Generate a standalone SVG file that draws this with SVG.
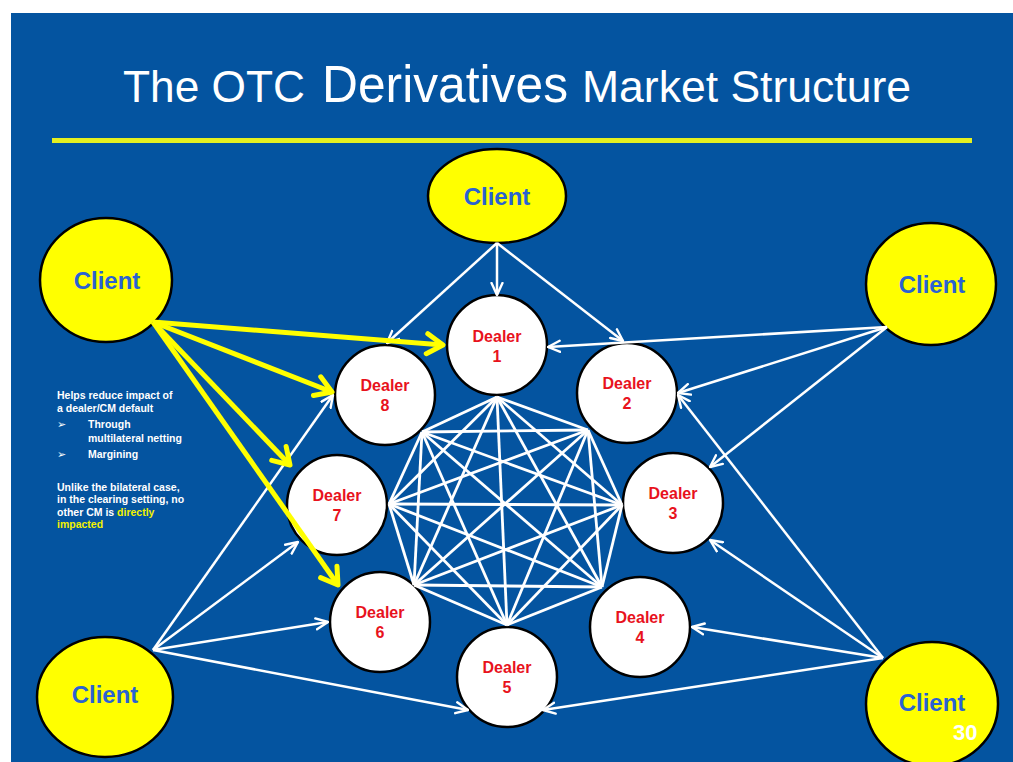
<svg xmlns="http://www.w3.org/2000/svg" width="1013" height="762" viewBox="0 0 1013 762">
<style>
.bg{fill:#0454A0}
.client{fill:#FFFF00;stroke:#000;stroke-width:2.5}
.dealer{fill:#fff;stroke:#000;stroke-width:2.5}
.ct{font-family:"Liberation Sans",Arial,sans-serif;font-weight:bold;font-size:24px;fill:#2A62D2;text-anchor:middle}
.dt{font-family:"Liberation Sans",Arial,sans-serif;font-weight:bold;font-size:16px;fill:#E8121C;text-anchor:middle}
.title{font-family:"Liberation Sans",Arial,sans-serif;fill:#fff}
.note{font-family:"Liberation Sans",Arial,sans-serif;font-weight:bold;font-size:10.5px;fill:#fff}
.bul{font-family:"DejaVu Sans",sans-serif;font-size:11px;fill:#fff}
.hl{fill:#F2F200}
.mesh line{stroke:#fff;stroke-width:2.8}
.wa{stroke:#fff;stroke-width:2.5;fill:none;marker-end:url(#wh)}
.ya{stroke:#FFFF00;stroke-width:5;fill:none;marker-end:url(#yh)}
</style>
<defs>
<marker id="wh" viewBox="0 0 14 14" refX="13" refY="7" markerWidth="14" markerHeight="14" markerUnits="userSpaceOnUse" orient="auto">
<path d="M1,1.5 L13,7 L1,12.5" fill="none" stroke="#fff" stroke-width="2.4" stroke-linejoin="round" stroke-linecap="round"/>
</marker>
<marker id="yh" viewBox="0 0 22 26" refX="19" refY="13" markerWidth="22" markerHeight="26" markerUnits="userSpaceOnUse" orient="auto">
<path d="M3,3 L19,13 L3,23" fill="none" stroke="#FFFF00" stroke-width="5" stroke-linejoin="round" stroke-linecap="round"/>
</marker>
</defs>
<rect x="0" y="0" width="1013" height="762" fill="#fff"/>
<rect class="bg" x="11" y="13" width="1002" height="749"/>
<g id="title">
<text class="title" x="123" y="102" font-size="44" textLength="182" lengthAdjust="spacingAndGlyphs">The OTC</text>
<text class="title" x="322" y="102" font-size="52" textLength="246" lengthAdjust="spacingAndGlyphs">Derivatives</text>
<text class="title" x="582" y="102" font-size="44" textLength="329" lengthAdjust="spacingAndGlyphs">Market Structure</text>
</g>
<rect x="52" y="138" width="920" height="5" fill="#E6F020"/>
<g id="note">
<text class="note" x="57" y="399">Helps reduce impact of</text>
<text class="note" x="57" y="412">a dealer/CM default</text>
<text class="bul" x="57" y="428">➢</text>
<text class="note" x="88" y="428">Through</text>
<text class="note" x="88" y="442">multilateral netting</text>
<text class="bul" x="57" y="458">➢</text>
<text class="note" x="88" y="458">Margining</text>
<text class="note" x="57" y="491">Unlike the bilateral case,</text>
<text class="note" x="57" y="503">in the clearing setting, no</text>
<text class="note" x="57" y="516">other CM is <tspan class="hl">directly</tspan></text>
<text class="note hl" x="57" y="528">impacted</text>
</g>
<g id="client-top"><ellipse class="client" cx="497" cy="196" rx="69" ry="47"/><text class="ct" x="497" y="205">Client</text></g>
<g id="client-tl"><ellipse class="client" cx="106" cy="280" rx="66" ry="62"/><text class="ct" x="107" y="289">Client</text></g>
<g id="client-tr"><ellipse class="client" cx="931" cy="284" rx="65" ry="61"/><text class="ct" x="932" y="293">Client</text></g>
<g id="client-bl"><ellipse class="client" cx="105" cy="697" rx="68" ry="60"/><text class="ct" x="105" y="703">Client</text></g>
<g id="client-br"><ellipse class="client" cx="932" cy="704" rx="66" ry="62"/><text class="ct" x="932" y="711">Client</text></g>
<g id="dealer-1"><circle class="dealer" cx="497" cy="345" r="50"/><text class="dt" x="497" y="342">Dealer</text><text class="dt" x="497" y="362">1</text></g>
<g id="dealer-2"><circle class="dealer" cx="627" cy="393" r="50"/><text class="dt" x="627" y="389">Dealer</text><text class="dt" x="627" y="409">2</text></g>
<g id="dealer-3"><circle class="dealer" cx="673" cy="503" r="50"/><text class="dt" x="673" y="499">Dealer</text><text class="dt" x="673" y="519">3</text></g>
<g id="dealer-4"><circle class="dealer" cx="640" cy="627" r="50"/><text class="dt" x="640" y="623">Dealer</text><text class="dt" x="640" y="643">4</text></g>
<g id="dealer-5"><circle class="dealer" cx="507" cy="677" r="50"/><text class="dt" x="507" y="673">Dealer</text><text class="dt" x="507" y="693">5</text></g>
<g id="dealer-6"><circle class="dealer" cx="380" cy="622" r="50"/><text class="dt" x="380" y="618">Dealer</text><text class="dt" x="380" y="638">6</text></g>
<g id="dealer-7"><circle class="dealer" cx="337" cy="505" r="50"/><text class="dt" x="337" y="501">Dealer</text><text class="dt" x="337" y="521">7</text></g>
<g id="dealer-8"><circle class="dealer" cx="385" cy="395" r="50"/><text class="dt" x="385" y="391">Dealer</text><text class="dt" x="385" y="411">8</text></g>
<g id="connectors">
<g class="mesh">
<line x1="497" y1="397" x2="588" y2="430"/><line x1="497" y1="397" x2="622" y2="505"/><line x1="497" y1="397" x2="602" y2="587"/><line x1="497" y1="397" x2="507" y2="625"/><line x1="497" y1="397" x2="414" y2="585"/><line x1="497" y1="397" x2="389" y2="504"/><line x1="497" y1="397" x2="422" y2="432"/>
<line x1="588" y1="430" x2="622" y2="505"/><line x1="588" y1="430" x2="602" y2="587"/><line x1="588" y1="430" x2="507" y2="625"/><line x1="588" y1="430" x2="414" y2="585"/><line x1="588" y1="430" x2="389" y2="504"/><line x1="588" y1="430" x2="422" y2="432"/>
<line x1="622" y1="505" x2="602" y2="587"/><line x1="622" y1="505" x2="507" y2="625"/><line x1="622" y1="505" x2="414" y2="585"/><line x1="622" y1="505" x2="389" y2="504"/><line x1="622" y1="505" x2="422" y2="432"/>
<line x1="602" y1="587" x2="507" y2="625"/><line x1="602" y1="587" x2="414" y2="585"/><line x1="602" y1="587" x2="389" y2="504"/><line x1="602" y1="587" x2="422" y2="432"/>
<line x1="507" y1="625" x2="414" y2="585"/><line x1="507" y1="625" x2="389" y2="504"/><line x1="507" y1="625" x2="422" y2="432"/>
<line x1="414" y1="585" x2="389" y2="504"/><line x1="414" y1="585" x2="422" y2="432"/>
<line x1="389" y1="504" x2="422" y2="432"/>
</g>
<line class="wa" x1="497" y1="243" x2="497" y2="295"/>
<line class="wa" x1="497" y1="243" x2="387" y2="343"/>
<line class="wa" x1="497" y1="243" x2="623" y2="341"/>
<line class="wa" x1="887" y1="327" x2="548" y2="347"/>
<line class="wa" x1="887" y1="327" x2="678" y2="393"/>
<line class="wa" x1="887" y1="327" x2="710" y2="467"/>
<line class="wa" x1="883" y1="658" x2="678" y2="395"/>
<line class="wa" x1="883" y1="658" x2="710" y2="540"/>
<line class="wa" x1="883" y1="658" x2="692" y2="627"/>
<line class="wa" x1="883" y1="658" x2="543" y2="710"/>
<line class="wa" x1="153" y1="650" x2="333" y2="395"/>
<line class="wa" x1="153" y1="650" x2="298" y2="542"/>
<line class="wa" x1="153" y1="650" x2="328" y2="622"/>
<line class="wa" x1="153" y1="650" x2="468" y2="710"/>
<line class="ya" x1="153" y1="322" x2="443" y2="345"/>
<line class="ya" x1="153" y1="322" x2="332" y2="392"/>
<line class="ya" x1="153" y1="322" x2="290" y2="465"/>
<line class="ya" x1="153" y1="322" x2="338" y2="585"/>
</g>
<text x="953" y="740" font-family="Liberation Sans,Arial,sans-serif" font-weight="bold" font-size="22" fill="#fff">30</text>
</svg>
